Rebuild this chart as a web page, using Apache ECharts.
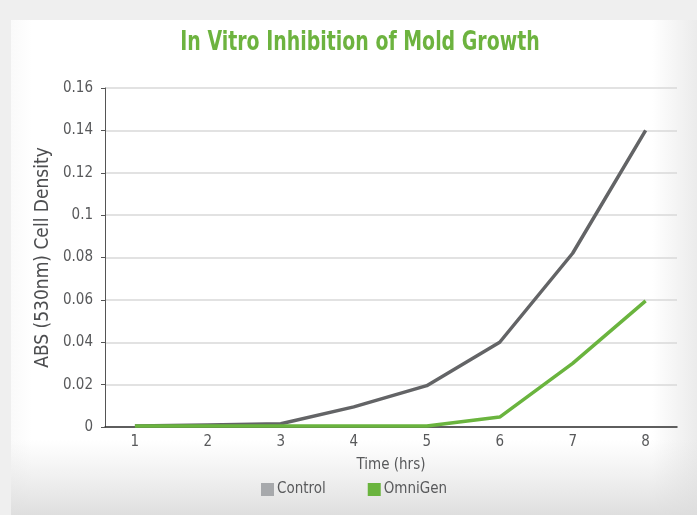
<!DOCTYPE html>
<html>
<head>
<meta charset="utf-8">
<script src="https://cdn.jsdelivr.net/npm/echarts@6/dist/echarts.min.js"></script>
<style>
html,body{margin:0;padding:0;background:#efefef;}
#c{width:697px;height:515px;}
</style>
</head>
<body>
<div id="c"></div>
<script>
const hours = [1, 2, 3, 4, 5, 6, 7, 8];
const control = [0.0005, 0.001, 0.0015, 0.0095, 0.0195, 0.040, 0.082, 0.140];
const omnigen = [0.0005, 0.0005, 0.0005, 0.0005, 0.0005, 0.0047, 0.030, 0.0595];
const yTicks = [0, 0.02, 0.04, 0.06, 0.08, 0.1, 0.12, 0.14, 0.16];
const titleText = 'In Vitro Inhibition of Mold Growth';

const FONT = '"Liberation Sans Narrow", "DejaVu Sans Condensed", "Roboto Condensed", sans-serif';
const txt = '#58595b';

const chart = echarts.init(document.getElementById('c'));
chart.setOption({
  animation: false,
  backgroundColor: '#efefef',
  graphic: [
    { type: 'rect', z: -10, silent: true, shape: { x: 11, y: 20, width: 697, height: 500 },
      style: { fill: new echarts.graphic.LinearGradient(0, 0, 1, 0, [
        { offset: 0, color: '#fafafa' }, { offset: 0.03, color: '#ffffff' },
        { offset: 0.92, color: '#ffffff' }, { offset: 1, color: '#e6e6e6' }]) } },
    { type: 'rect', z: -9, silent: true, shape: { x: 11, y: 440, width: 697, height: 80 },
      style: { fill: new echarts.graphic.LinearGradient(0, 0, 0, 1, [
        { offset: 0, color: 'rgba(225,225,225,0)' }, { offset: 1, color: 'rgba(220,220,220,1)' }]) } },
    { type: 'text', z: 10, silent: true, x: 360, y: 43, scaleX: 0.81,
      style: { text: titleText, align: 'center', verticalAlign: 'middle',
        font: 'bold 26px ' + FONT, fill: '#6db33f' } }
  ],
  legend: {
    bottom: 13, left: 256, itemGap: 42,
    itemWidth: 13, itemHeight: 13, icon: 'rect',
    textStyle: { fontFamily: FONT, fontSize: 15, color: txt, padding: [0, 0, 0, -2] },
    data: [
      { name: 'Control', itemStyle: { color: '#a7a9ac' } },
      { name: 'OmniGen', itemStyle: { color: '#6ab43e' } }
    ]
  },
  grid: { left: 105, right: 20, top: 88, bottom: 88, containLabel: false },
  xAxis: {
    type: 'value', min: 0.59, max: 8.43,
    name: 'Time (hrs)', nameLocation: 'middle', nameGap: 31,
    nameTextStyle: { fontFamily: FONT, fontSize: 15, color: txt },
    axisLine: { show: true, lineStyle: { color: '#333', width: 1.5 } },
    axisTick: { show: false },
    splitLine: { show: false },
    axisLabel: { customValues: hours, fontFamily: FONT, fontSize: 15, color: txt, margin: 8 }
  },
  yAxis: {
    type: 'value', min: 0, max: 0.16, interval: 0.02,
    name: 'ABS (530nm) Cell Density', nameLocation: 'middle', nameGap: 49,
    nameTextStyle: { fontFamily: FONT, fontSize: 19, color: '#4d4e50' },
    axisLine: { show: true, lineStyle: { color: '#555', width: 1 } },
    axisTick: { show: true, length: 4, lineStyle: { color: '#555' } },
    splitLine: { show: true, lineStyle: { color: '#d8d8d8', width: 1.5 } },
    axisLabel: { fontFamily: FONT, fontSize: 15, color: txt, margin: 12,
      formatter: v => String(parseFloat(v.toFixed(2))) }
  },
  series: [
    { name: 'Control', type: 'line', data: hours.map((h, i) => [h, control[i]]),
      showSymbol: false, lineStyle: { color: '#636466', width: 3.5 }, itemStyle: { color: '#a7a9ac' } },
    { name: 'OmniGen', type: 'line', data: hours.map((h, i) => [h, omnigen[i]]),
      showSymbol: false, lineStyle: { color: '#6ab43e', width: 3.5 }, itemStyle: { color: '#6ab43e' } }
  ]
});
</script>
</body>
</html>
